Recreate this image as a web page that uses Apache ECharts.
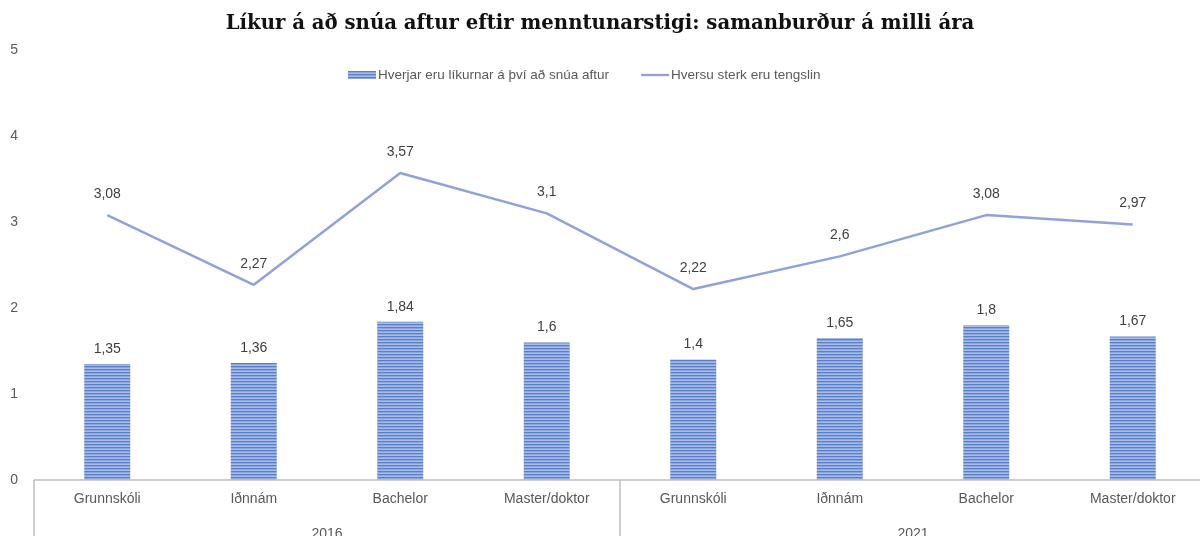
<!DOCTYPE html>
<html>
<head>
<meta charset="utf-8">
<script src="https://cdn.jsdelivr.net/npm/echarts@6/dist/echarts.min.js"></script>
<style>
  html, body { margin: 0; padding: 0; background: #fff; }
  #chart { width: 1200px; height: 536px; }
</style>
</head>
<body>
<div id="chart"></div>
<script>
  // gögn lesin af myndinni
  var flokkar = ['Grunnskóli', 'Iðnnám', 'Bachelor', 'Master/doktor', 'Grunnskóli', 'Iðnnám', 'Bachelor', 'Master/doktor'];
  var ar = ['2016', '2021'];
  var likur = [1.35, 1.36, 1.84, 1.6, 1.4, 1.65, 1.8, 1.67];
  var tengsl = [3.08, 2.27, 3.57, 3.1, 2.22, 2.6, 3.08, 2.97];
  var yTicks = [0, 1, 2, 3, 4, 5];

  // röndótt fylling eins og í Excel
  function stripes() {
    var c = document.createElement('canvas');
    c.width = 4; c.height = 3;
    var ctx = c.getContext('2d');
    ctx.fillStyle = '#8ba5dd'; ctx.fillRect(0, 0, 4, 3);
    ctx.fillStyle = '#5b7fc9'; ctx.fillRect(0, 0, 4, 1);
    ctx.fillStyle = '#a6bbe6'; ctx.fillRect(0, 2, 4, 1);
    return c;
  }

  function komma(p) {
    return String(p.value).replace('.', ',');
  }

  var letur = 'Liberation Sans';

  var myChart = echarts.init(document.getElementById('chart'));
  myChart.setOption({
    animation: false,
    title: {
      text: 'Líkur á að snúa aftur eftir menntunarstigi: samanburður á milli ára',
      left: 'center',
      top: 9,
      textStyle: { fontFamily: 'DejaVu Serif', fontWeight: 'bold', fontSize: 19.7, color: '#111' }
    },
    legend: {
      top: 63,
      left: 343,
      itemGap: 32,
      itemWidth: 28,
      itemHeight: 8,
      textStyle: { fontFamily: letur, fontSize: 13.5, color: '#595959', padding: [0, 0, 0, -3] },
      data: [
        { name: 'Hverjar eru líkurnar á því að snúa aftur', icon: 'rect' },
        { name: 'Hversu sterk eru tengslin', icon: 'path://M0,3L30,3L30,5.5L0,5.5Z' }
      ]
    },
    grid: { left: 34, top: 50, width: 1172, height: 430, outerBoundsMode: 'none' },
    xAxis: [
      {
        type: 'category',
        data: flokkar,
        axisLine: { lineStyle: { color: '#bfbfbf', width: 1.5 } },
        axisTick: { show: false },
        axisLabel: { margin: 12, fontFamily: letur, fontSize: 14, color: '#595959', interval: 0 }
      },
      {
        type: 'category',
        data: ar,
        position: 'bottom',
        offset: 65,
        axisLine: { show: false },
        axisTick: { show: true, inside: true, length: 65, lineStyle: { color: '#bfbfbf', width: 1.5 } },
        axisLabel: { inside: true, margin: 4, fontFamily: letur, fontSize: 14, color: '#595959' }
      }
    ],
    yAxis: {
      type: 'value',
      min: yTicks[0],
      max: yTicks[yTicks.length - 1],
      interval: 1,
      axisLine: { show: false },
      axisTick: { show: false },
      splitLine: { show: false },
      axisLabel: { margin: 16, fontFamily: letur, fontSize: 14, color: '#595959' }
    },
    series: [
      {
        name: 'Hverjar eru líkurnar á því að snúa aftur',
        type: 'bar',
        data: likur,
        barWidth: 46,
        itemStyle: { color: { image: stripes(), repeat: 'repeat' } },
        label: { show: true, position: 'top', distance: 8, formatter: komma, fontFamily: letur, fontSize: 14, color: '#404040' }
      },
      {
        name: 'Hversu sterk eru tengslin',
        type: 'line',
        data: tengsl,
        symbol: 'circle',
        symbolSize: 0.1,
        lineStyle: { color: '#8fa2da', width: 2.5 },
        itemStyle: { color: '#8fa2da' },
        label: { show: true, position: 'top', distance: 14, formatter: komma, fontFamily: letur, fontSize: 14, color: '#404040' }
      }
    ]
  });
</script>
</body>
</html>
